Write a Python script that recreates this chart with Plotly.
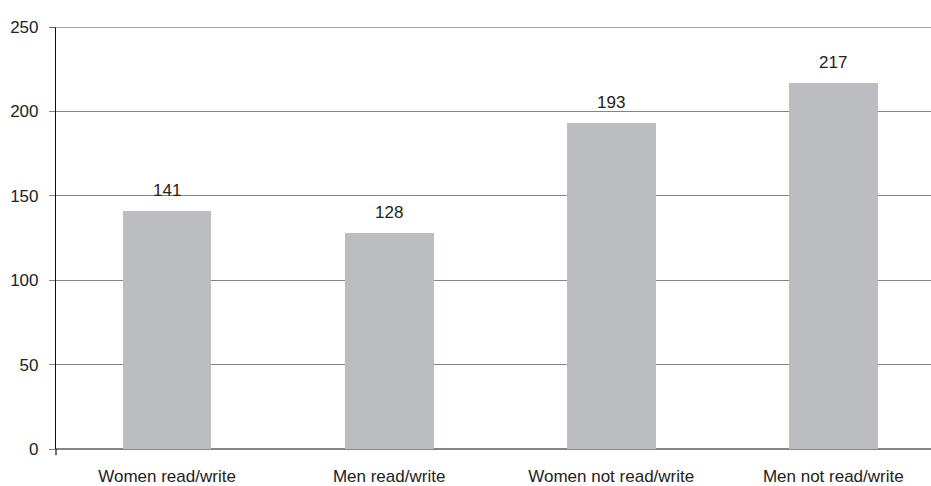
import plotly.graph_objects as go

categories = ["Women read/write", "Men read/write", "Women not read/write", "Men not read/write"]
values = [141, 128, 193, 217]
y_ticks = [0, 50, 100, 150, 200, 250]

FONT = "Liberation Sans, Arial, Helvetica, sans-serif"
TXT = "#222222"
SIZE = 17

fig = go.Figure()
fig.add_trace(go.Bar(
    x=list(range(len(categories))),
    y=values,
    width=0.4,
    marker=dict(color="#bcbdc1", line=dict(width=0)),
    cliponaxis=False,
))

# value labels above each bar
for i, v in enumerate(values):
    fig.add_annotation(x=i, y=v, text=str(v), showarrow=False,
                       yanchor="bottom", yshift=9,
                       font=dict(family=FONT, size=SIZE, color=TXT))

# darker top border line at the maximum of the value axis
fig.add_shape(type="line", xref="paper", yref="y", x0=-0.007, x1=1, y0=250, y1=250,
              line=dict(color="#444444", width=1.2), layer="above")
# short extension of the value axis below the baseline
fig.add_shape(type="line", xref="paper", yref="paper", x0=0, x1=0, y0=0, y1=-0.015,
              line=dict(color="#111111", width=1.2))

fig.update_layout(
    width=931, height=486,
    margin=dict(l=56, r=0, t=27, b=33),
    paper_bgcolor="white", plot_bgcolor="white",
    showlegend=False,
    bargap=0,
    font=dict(family=FONT, size=SIZE, color=TXT),
    xaxis=dict(
        range=[-0.5, 3.44],
        tickmode="array",
        tickvals=list(range(len(categories))),
        ticktext=categories,
        showgrid=False, zeroline=False, showline=False,
        ticks="",
        ticklabelstandoff=15,
        tickfont=dict(family=FONT, size=SIZE, color=TXT),
    ),
    yaxis=dict(
        range=[0, 250],
        tickmode="array",
        tickvals=y_ticks,
        showgrid=True, gridcolor="#858585", gridwidth=1.2,
        zeroline=True, zerolinecolor="#858585", zerolinewidth=1.5,
        showline=True, linecolor="#111111", linewidth=1.2,
        ticks="outside", ticklen=6, tickcolor="#858585", tickwidth=1.2,
        ticklabelstandoff=7,
        tickfont=dict(family=FONT, size=SIZE, color=TXT),
    ),
)

fig.write_html("out.html")
